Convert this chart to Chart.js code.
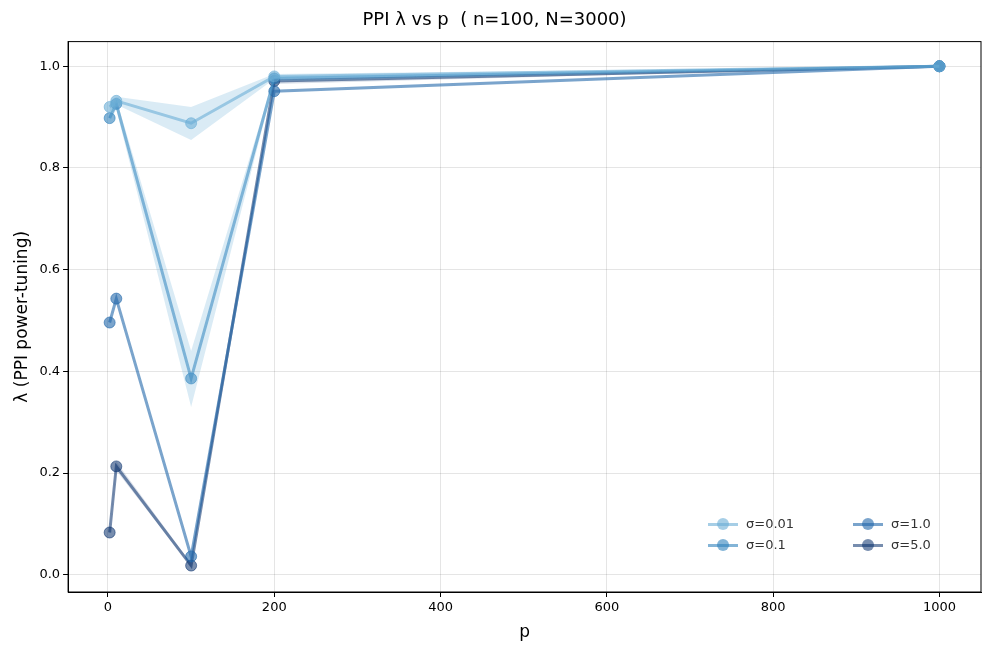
<!DOCTYPE html>
<html>
<head>
<meta charset="utf-8">
<script src="https://cdn.jsdelivr.net/npm/chart.js@4"></script>
<style>
  body { margin: 0; background: #fff; font-family: "DejaVu Sans", sans-serif; }
  #wrap { width: 993px; height: 657px; position: relative; }
  #legend { position: absolute; left: 708px; top: 516px; display: grid;
    grid-template-columns: 145px 110px; row-gap: 6px; font-size: 13px; color: #333; }
  .it { display: flex; align-items: center; }
  .sw { position: relative; width: 30px; height: 14px; margin-right: 8px; }
  .sw .ln { position: absolute; left: 0; right: 0; top: 6px; height: 3px; }
  .sw .dt { position: absolute; left: 9px; top: 1px; width: 12px; height: 12px; border-radius: 50%; }
</style>
</head>
<body>
<div id="wrap"><canvas id="c"></canvas><div id="legend"></div></div>
<script>
const pValues = [2, 10, 100, 200, 1000];
const sigmaLabels = ["σ=0.01", "σ=0.1", "σ=1.0", "σ=5.0"];
const lam001 = [0.92, 0.932, 0.888, 0.98, 1.0];
const lam01 = [0.898, 0.926, 0.386, 0.976, 1.0];
const lam1 = [0.496, 0.543, 0.036, 0.951, 1.0];
const lam5 = [0.083, 0.213, 0.018, 0.971, 1.0];
const lo001 = [0.91, 0.925, 0.855, 0.975, 1.0];
const hi001 = [0.93, 0.94, 0.92, 0.985, 1.0];
const lo01 = [0.89, 0.915, 0.33, 0.97, 1.0];
const hi01 = [0.905, 0.935, 0.44, 0.98, 1.0];
const lo5 = [0.08, 0.205, 0.015, 0.965, 1.0];
const hi5 = [0.086, 0.222, 0.022, 0.975, 1.0];

const colors = ["rgba(107,174,214,0.6)", "rgba(49,130,189,0.6)", "rgba(33,104,170,0.6)", "rgba(8,48,107,0.55)"];
const pts = arr => arr.map((v, i) => ({ x: pValues[i], y: v }));

function band(lo, hi, color) {
  return [
    { data: pts(lo), showLine: true, borderWidth: 0, pointRadius: 0, backgroundColor: "transparent" },
    { data: pts(hi), showLine: true, borderWidth: 0, pointRadius: 0, fill: "-1", backgroundColor: color }
  ];
}

const seriesData = [lam001, lam01, lam1, lam5];
const lines = seriesData.map((d, i) => ({
  label: sigmaLabels[i], data: pts(d), showLine: true,
  borderColor: colors[i], backgroundColor: colors[i], borderWidth: 3,
  pointRadius: 5.5, pointBorderWidth: 1, pointBorderColor: colors[i]
}));

const datasets = [
  ...band(lo001, hi001, "rgba(107,174,214,0.25)"),
  ...band(lo01, hi01, "rgba(107,174,214,0.25)"),
  ...band(lo5, hi5, "rgba(8,48,107,0.15)"),
  ...lines
];

// legend in matplotlib order (column-wise)
const leg = document.getElementById("legend");
[0, 2, 1, 3].forEach(i => {
  leg.insertAdjacentHTML("beforeend",
    `<div class="it"><span class="sw"><span class="ln" style="background:${colors[i]}"></span><span class="dt" style="background:${colors[i]}"></span></span>${sigmaLabels[i]}</div>`);
});

const yTicks = [0, 0.2, 0.4, 0.6, 0.8, 1.0];
const xTicks = [0, 200, 400, 600, 800, 1000];

const frame = {
  id: "frame",
  afterDraw(chart) {
    const { ctx, chartArea: a } = chart;
    ctx.save();
    ctx.strokeStyle = "#000"; ctx.lineWidth = 1;
    ctx.strokeRect(a.left, a.top, a.right - a.left, a.bottom - a.top);
    ctx.restore();
  }
};

new Chart(document.getElementById("c"), {
  type: "scatter",
  data: { datasets },
  plugins: [frame],
  options: {
    responsive: true, maintainAspectRatio: false, animation: false,
    layout: { padding: { left: 8, right: 12, top: 0, bottom: 10 } },
    plugins: {
      title: { display: true, text: "PPI λ vs p  ( n=100, N=3000)", color: "#000",
        font: { family: "DejaVu Sans", size: 18, weight: "normal" }, padding: { top: 10, bottom: 10 } },
      legend: { display: false },
      tooltip: { enabled: false }
    },
    scales: {
      x: {
        type: "linear", min: -48, max: 1050,
        afterBuildTicks: s => { s.ticks = xTicks.map(v => ({ value: v })); },
        title: { display: true, text: "p", color: "#000", font: { family: "DejaVu Sans", size: 17 } },
        ticks: { color: "#000", font: { family: "DejaVu Sans", size: 13 }, callback: v => String(v) },
        grid: { color: "rgba(0,0,0,0.1)", tickColor: "#000", tickLength: 5 },
        border: { color: "#000" }
      },
      y: {
        min: -0.034, max: 1.0485,
        afterBuildTicks: s => { s.ticks = yTicks.map(v => ({ value: v })); },
        title: { display: true, text: "λ (PPI power-tuning)", color: "#000", font: { family: "DejaVu Sans", size: 17 } },
        ticks: { color: "#000", font: { family: "DejaVu Sans", size: 13 }, callback: v => v.toFixed(1) },
        grid: { color: "rgba(0,0,0,0.1)", tickColor: "#000", tickLength: 5 },
        border: { color: "#000" }
      }
    }
  }
});
</script>
</body>
</html>
